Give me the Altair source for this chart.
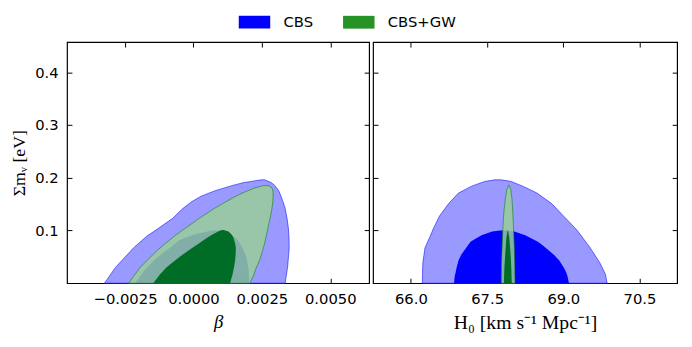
import altair as alt
import pandas as pd

# ---------------- data ----------------
# Left panel: beta vs sum m_nu. Each region: y levels, left edge, right edge
b_cbs95_y  = [0, 0.03, 0.067, 0.089, 0.104, 0.123, 0.142, 0.155, 0.165, 0.175, 0.185, 0.191, 0.196]
b_cbs95_lo = [-0.00325, -0.00285, -0.00219, -0.00171, -0.00128, -0.00076, -0.00038, -0.00005, 0.00028, 0.00077, 0.00140, 0.00185, 0.00248]
b_cbs95_hi = [0.00335, 0.00344, 0.00350, 0.00349, 0.00347, 0.00342, 0.00335, 0.00327, 0.00320, 0.00312, 0.00298, 0.00284, 0.00260]

b_cbs68_y  = [0, 0.026, 0.048, 0.067, 0.082, 0.092, 0.100]
b_cbs68_lo = [-0.00213, -0.00177, -0.00135, -0.00087, -0.00051, 0.0, 0.00067]
b_cbs68_hi = [0.00204, 0.00201, 0.00194, 0.00180, 0.00162, 0.00140, 0.00107]

b_gw95_y  = [0, 0.015, 0.030, 0.045, 0.061, 0.075, 0.092, 0.104, 0.123, 0.142, 0.154, 0.165, 0.173, 0.180, 0.185]
b_gw95_lo = [-0.00237, -0.00216, -0.00195, -0.00166, -0.00135, -0.00103, -0.00063, -0.00030, 0.00021, 0.00077, 0.00117, 0.00155, 0.00188, 0.00220, 0.00255]
b_gw95_hi = [0.00206, 0.00220, 0.00230, 0.00243, 0.00252, 0.00260, 0.00267, 0.00272, 0.00280, 0.00287, 0.00290, 0.00291, 0.00291, 0.00288, 0.00275]

b_gw68_y  = [0, 0.017, 0.030, 0.042, 0.054, 0.067, 0.076, 0.086, 0.092, 0.098, 0.101]
b_gw68_lo = [-0.00147, -0.00122, -0.00099, -0.00070, -0.00040, -0.00005, 0.00021, 0.00050, 0.00068, 0.00090, 0.00104]
b_gw68_hi = [0.00134, 0.00143, 0.00148, 0.00152, 0.00154, 0.00155, 0.00152, 0.00146, 0.00140, 0.00128, 0.00110]

# Right panel: H0 vs sum m_nu
h_cbs95_y  = [0, 0.017, 0.039, 0.067, 0.098, 0.101, 0.127, 0.151, 0.171, 0.184, 0.193, 0.196]
h_cbs95_lo = [66.225, 66.228, 66.235, 66.277, 66.419, 66.43, 66.56, 66.743, 66.937, 67.195, 67.455, 67.65]
h_cbs95_hi = [69.862, 69.829, 69.718, 69.53, 69.29, 69.266, 69.008, 68.77, 68.48, 68.20, 67.972, 67.78]

h_cbs68_y  = [0, 0.013, 0.020, 0.030, 0.043, 0.054, 0.073, 0.079, 0.091, 0.098, 0.100]
h_cbs68_lo = [66.850, 66.862, 66.879, 66.90, 66.937, 66.99, 67.131, 67.18, 67.389, 67.6, 67.75]
h_cbs68_hi = [69.111, 69.082, 69.06, 69.008, 68.92, 68.814, 68.58, 68.49, 68.25, 68.037, 67.9]

h_gw95_y  = [0, 0.039, 0.073, 0.104, 0.135, 0.160, 0.177, 0.186]
h_gw95_lo = [67.778, 67.783, 67.797, 67.810, 67.830, 67.859, 67.888, 67.922]
h_gw95_hi = [68.049, 68.043, 68.034, 68.020, 68.005, 67.989, 67.966, 67.932]

h_gw68_y  = [0, 0.030, 0.058, 0.086, 0.100]
h_gw68_lo = [67.830, 67.840, 67.859, 67.879, 67.902]
h_gw68_hi = [67.985, 67.975, 67.960, 67.937, 67.912]

series_names = ["CBS", "CBS+GW"]
series_colors = ["#0000ff", "#269326"]

y_ticks = [0.1, 0.2, 0.3, 0.4]
beta_ticks = [-0.0025, 0.0, 0.0025, 0.005]
h0_ticks = [66.0, 67.5, 69.0, 70.5]

# ---------------- styling ----------------
LABEL_FONT = "DejaVu Sans"
TITLE_FONT = "Liberation Serif"
TS = 5  # tick length (inward)

Y = alt.Scale(domain=[0, 0.457], nice=False, zero=False)
XB = alt.Scale(domain=[-0.00462, 0.00642], nice=False, zero=False)
XH = alt.Scale(domain=[65.255, 71.24], nice=False, zero=False)


def tick_axis(orient, values):
    return alt.Axis(orient=orient, values=values, labels=False, title=None,
                    tickSize=TS, offset=-TS, domain=False, grid=False,
                    tickColor="black", tickWidth=1)


def label_axis(orient, values, fmt, title, italic=False, show_labels=True, title_size=18):
    kw = dict(orient=orient, values=values, format=fmt, labels=show_labels,
              tickSize=TS, offset=-TS, domain=False, grid=False,
              tickColor="black", tickWidth=1,
              labelFont=LABEL_FONT, labelFontSize=15, labelColor="black",
              labelPadding=9, titleFont=TITLE_FONT, titleFontSize=title_size,
              titleFontWeight="normal", titleColor="black")
    if title is not None:
        kw["title"] = title
        kw["titlePadding"] = 6
    else:
        kw["title"] = None
    if italic:
        kw["titleFontStyle"] = "italic"
    return alt.Axis(**kw)


def region(ys, lo, hi, xscale, fill, opacity, stroke=None, xaxis=None, yaxis=None):
    df = pd.DataFrame({"y": ys, "lo": lo, "hi": hi})
    mk = dict(orient="horizontal", fill=fill, fillOpacity=opacity)
    if stroke:
        mk.update(stroke=stroke, strokeWidth=1, strokeOpacity=0.55)
    else:
        mk.update(strokeWidth=0)
    return alt.Chart(df).mark_area(**mk).encode(
        y=alt.Y("y:Q", scale=Y, axis=yaxis),
        x=alt.X("lo:Q", scale=xscale, axis=xaxis),
        x2="hi:Q",
    )


# ---------------- left panel ----------------
legend_df = pd.DataFrame({"s": series_names, "x": [0.0, 0.0], "y": [0.3, 0.3]})
legend_layer = alt.Chart(legend_df).mark_point(opacity=0, filled=True).encode(
    x=alt.X("x:Q", scale=XB, axis=None),
    y=alt.Y("y:Q", scale=Y, axis=None),
    color=alt.Color("s:N", sort=series_names,
                    scale=alt.Scale(domain=series_names, range=series_colors),
                    legend=alt.Legend(orient="none", legendX=183, legendY=-28,
                                      direction="horizontal", title=None,
                                      symbolType="M-2.46,-1H2.46V1H-2.46Z",
                                      symbolSize=169, symbolOpacity=1,
                                      symbolStrokeWidth=0,
                                      labelFont=LABEL_FONT, labelFontSize=15,
                                      labelColor="black", labelOffset=22,
                                      columnPadding=29)),
)

left = alt.layer(
    region(b_cbs95_y, b_cbs95_lo, b_cbs95_hi, XB, "#9999ff", 1, stroke="#0000ff",
           xaxis=label_axis("bottom", beta_ticks, ".4f", "β", italic=True, title_size=19),
           yaxis=label_axis("left", y_ticks, ".1f", "Σmᵥ [eV]")),
    region(b_cbs68_y, b_cbs68_lo, b_cbs68_hi, XB, "#0000ff", 1,
           xaxis=tick_axis("top", beta_ticks), yaxis=tick_axis("right", y_ticks)),
    region(b_gw95_y, b_gw95_lo, b_gw95_hi, XB, "#99cc99", 0.85, stroke="#008000"),
    region(b_gw68_y, b_gw68_lo, b_gw68_hi, XB, "#006d26", 1),
    legend_layer,
).resolve_axis(x="independent", y="independent").properties(width=307, height=245)

# ---------------- right panel ----------------
right = alt.layer(
    region(h_cbs95_y, h_cbs95_lo, h_cbs95_hi, XH, "#9999ff", 1, stroke="#0000ff",
           xaxis=label_axis("bottom", h0_ticks, ".1f", "H₀ [km s⁻¹  Mpc⁻¹]", title_size=20),
           yaxis=label_axis("left", y_ticks, ".1f", None, show_labels=False)),
    region(h_cbs68_y, h_cbs68_lo, h_cbs68_hi, XH, "#0000ff", 1,
           xaxis=tick_axis("top", h0_ticks), yaxis=tick_axis("right", y_ticks)),
    region(h_gw95_y, h_gw95_lo, h_gw95_hi, XH, "#99cc99", 0.85, stroke="#008000"),
    region(h_gw68_y, h_gw68_lo, h_gw68_hi, XH, "#006d26", 1),
).resolve_axis(x="independent", y="independent").properties(width=309, height=245)

chart = alt.hconcat(left, right, spacing=0).properties(
    padding={"left": 2, "top": 4, "right": 5, "bottom": 5}
).configure(background="white").configure_view(stroke="black", strokeWidth=1.2)

chart.save("out.html", embed_options={"renderer": "svg", "actions": False})
